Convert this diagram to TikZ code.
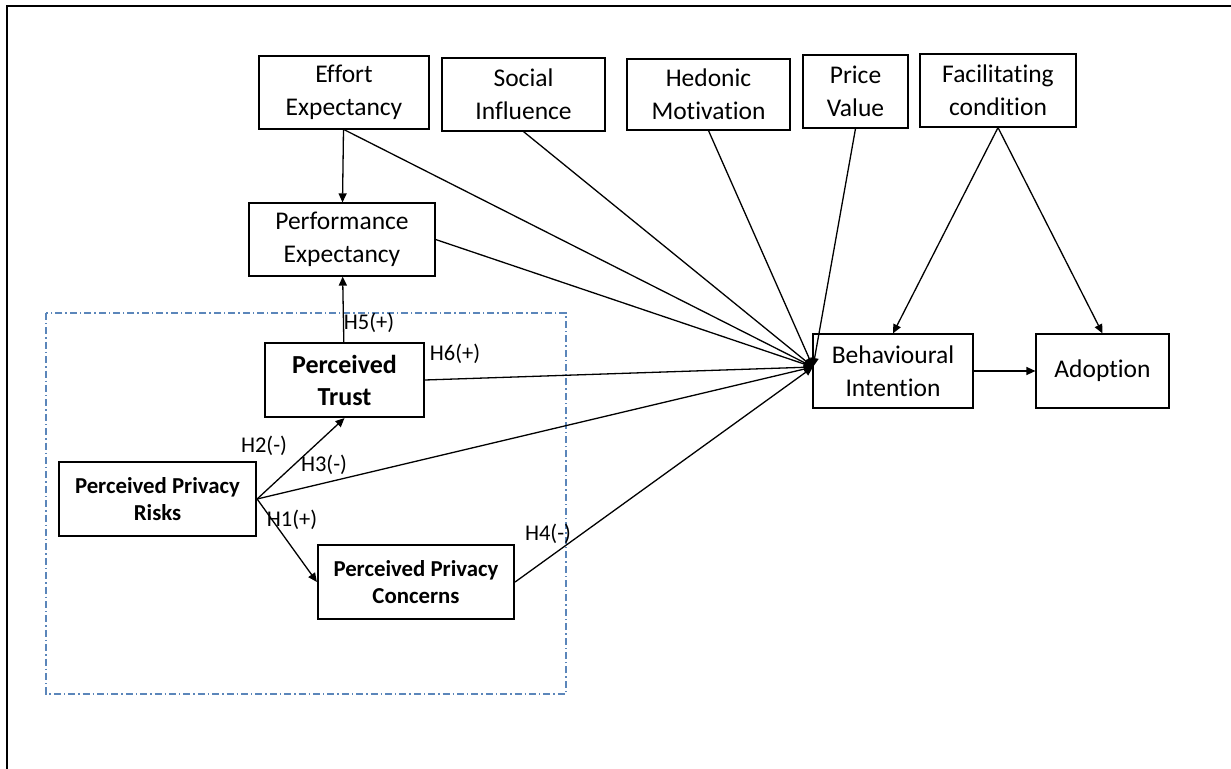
\documentclass[tikz,border=0pt]{standalone}
\usepackage{fontspec}
\setmainfont{Carlito}[Ligatures=NoCommon]
\usetikzlibrary{arrows.meta}
\definecolor{dashblue}{HTML}{5B86BA}

\begin{document}
\begin{tikzpicture}[x=0.5pt,y=-0.5pt,
	box/.style={draw,line width=0.6pt,align=center,inner sep=0pt,font=\fontsize{12.75}{16.3}\selectfont},
	bbox/.style={draw,line width=1.1pt,align=center,inner sep=0pt,font=\bfseries\fontsize{11.4}{13.6}\selectfont},
	hyp/.style={inner sep=0pt,font=\fontsize{11.25}{13}\selectfont},
	lnk/.style={line width=0.65pt,-{Triangle[length=4.5pt,width=4pt]}}]
	\useasboundingbox (0,0) rectangle (1231,769);
	\draw[line width=1pt] (7,769) -- (7,6) -- (1231,6);
	\draw[dashblue,line width=0.6pt,dash pattern=on 3.5pt off 1.5pt on 0.7pt off 1.5pt] (46,313) rectangle (566,694);
	\node[box,minimum width=85pt,minimum height=36.5pt] (effort) at (344,92.5) {Effort\\Expectancy};
	\node[box,minimum width=81.5pt,minimum height=36.5pt] (social) at (523.5,94.5) {Social\\Influence};
	\node[box,minimum width=81.5pt,minimum height=35.5pt] (hedonic) at (708.5,94.5) {Hedonic\\Motivation};
	\node[box,minimum width=52.5pt,minimum height=36.5pt] (price) at (855.5,91.5) {Price\\Value};
	\node[box,minimum width=78pt,minimum height=36.5pt] (facil) at (998,90.5) {Facilitating\\condition};
	\node[box,minimum width=93pt,minimum height=36.5pt] (perf) at (342,239.5) {Performance\\Expectancy};
	\node[box,minimum width=80pt,minimum height=37pt] (bi) at (893,371) {Behavioural\\Intention};
	\node[box,minimum width=66.5pt,minimum height=37pt] (adoption) at (1102.5,371) {Adoption};
	\node[bbox,font=\bfseries\fontsize{13}{16}\selectfont,minimum width=79.5pt,minimum height=37pt] (trust) at (344.5,380) {Perceived\\Trust};
	\node[bbox,minimum width=98.5pt,minimum height=37pt] (risks) at (157.5,499) {Perceived Privacy\\Risks};
	\node[bbox,minimum width=98pt,minimum height=37pt] (concerns) at (416,582) {Perceived Privacy\\Concerns};
	\coordinate (bi-in) at (813,367);
	\draw[lnk] (effort) -- (perf);
	\draw[lnk] (trust) -- (perf);
	\draw[lnk] (risks.east) -- (trust.south);
	\draw[lnk] (risks.east) -- (concerns.west);
	\foreach \src in {effort.south,social.south,hedonic.south,price.south,perf.east,trust.east,risks.east,concerns.east}
		\draw[lnk] (\src) -- (bi-in);
	\draw[lnk] (facil.south) -- (bi.north);
	\draw[lnk] (facil.south) -- (adoption.north);
	\draw[lnk] (bi) -- (adoption);
	\node[hyp] (h5) at (369,323) {H5(+)};
	\node[hyp] (h6) at (455,354) {H6(+)};
	\node[hyp] (h2) at (264,446) {H2(-)};
	\node[hyp] (h3) at (324,465) {H3(-)};
	\node[hyp] (h1) at (292,520) {H1(+)};
	\node[hyp] (h4) at (548,534) {H4(-)};
\end{tikzpicture}
\end{document}
